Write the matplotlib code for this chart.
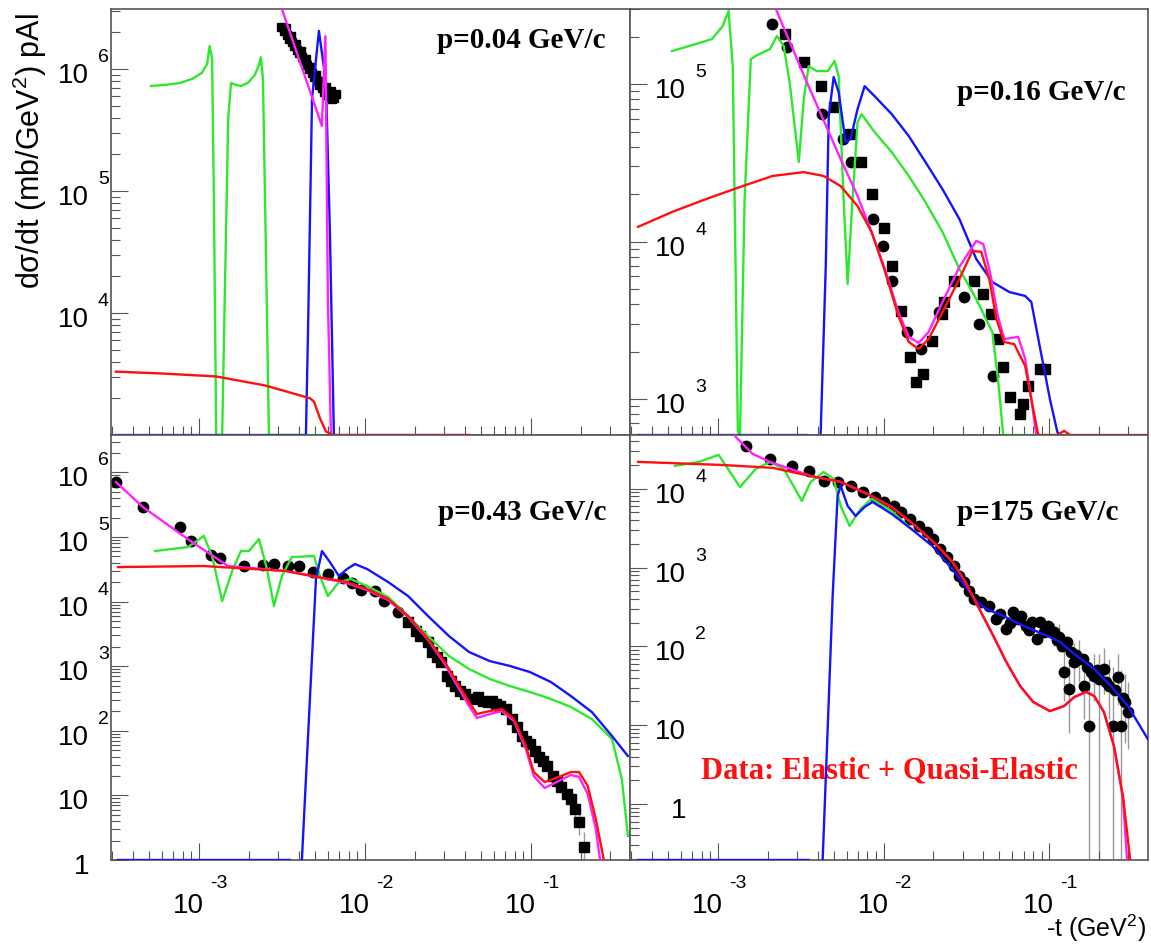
import numpy as np
import matplotlib.pyplot as plt
from matplotlib.ticker import LogLocator, NullFormatter

plt.rcParams['font.family'] = ['Liberation Sans', 'DejaVu Sans']
plt.rcParams['mathtext.fontset'] = 'custom'
plt.rcParams['mathtext.rm'] = 'Liberation Sans'
plt.rcParams['mathtext.it'] = 'Liberation Sans:italic'

nan = np.nan

# ---------------- p = 0.04 GeV/c ----------------
p1_sq_t = [3.12e-3, 3.25e-3, 3.39e-3, 3.49e-3, 3.63e-3, 3.73e-3, 3.89e-3, 4.0e-3, 4.17e-3, 4.29e-3, 4.48e-3,
           4.60e-3, 4.80e-3, 4.93e-3, 5.14e-3, 5.28e-3, 5.51e-3, 5.66e-3, 5.90e-3, 6.07e-3, 6.32e-3, 6.5e-3,
           3.34e-3, 3.58e-3, 3.84e-3, 4.11e-3, 4.41e-3, 4.73e-3, 5.07e-3, 5.43e-3, 5.82e-3, 6.24e-3, 6.69e-3]
p1_sq_y = [2.21e6, 2.05e6, 1.90e6, 1.76e6, 1.66e6, 1.54e6, 1.43e6, 1.35e6, 1.25e6, 1.16e6, 1.08e6,
           1.0e6, 9.27e5, 8.6e5, 7.98e5, 7.4e5, 7.0e5, 6.49e5, 6.13e5, 5.9e5, 5.69e5, 5.8e5,
           2.17e6, 1.86e6, 1.60e6, 1.40e6, 1.21e6, 1.04e6, 8.93e5, 7.98e5, 7.13e5, 6.61e5, 6.24e5]
p1_green_t = [5.14e-4, 6.24e-4, 7.69e-4, 9.08e-4, 1.04e-3, 1.12e-3, 1.16e-3, 1.20e-3, 1.23e-3, 1.27e-3,
              1.38e-3, 1.43e-3, 1.50e-3, 1.56e-3, 1.67e-3, 1.79e-3, 1.97e-3, 2.17e-3, 2.30e-3, 2.36e-3,
              2.43e-3, 2.53e-3, 2.64e-3, 5.36e-3]
p1_green_y = [7.26e5, 7.4e5, 7.68e5, 8.28e5, 9.27e5, 1.10e6, 1.54e6, 1.21e6, 8.6e4, 1e3,
              1e3, 1.31e4, 3.9e5, 7.68e5, 7.4e5, 7.26e5, 7.68e5, 8.93e5, 1.08e6, 1.25e6,
              8.28e5, 3.37e4, 1e3, 1e3]
p1_blue_t = [3.16e-4, 4.41e-3, 4.54e-3, 4.80e-3, 5.28e-3, 5.82e-3, 6.15e-3, 6.5e-3]
p1_blue_y = [1e3, 1e3, 7.05e3, 5.69e5, 2.05e6, 7.83e5, 4.64e4, 1e3]
p1_mag_t = [2.99e-3, 5.5e-3, 5.78e-3, 5.98e-3, 6.24e-3, 4.24e-2]
p1_mag_y = [3.86e6, 3.42e5, 1.86e6, 1.31e4, 1e3, 1e3]
p1_red_t = [3.16e-4, 6.07e-4, 1.27e-3, 2.5e-3, 3.34e-3, 4.67e-3, 4.93e-3, 5.36e-3, 5.82e-3, 6.41e-3, 4.24e-2]
p1_red_y = [3.31e3, 3.19e3, 3.02e3, 2.55e3, 2.28e3, 2.0e3, 1.88e3, 1.37e3, 1.07e3, 1e3, 1e3]

# ---------------- p = 0.16 GeV/c ----------------
p2_circ_t = [2.11e-3, 2.60e-3, 4.23e-3, 5.66e-3, 6.32e-3, 8.59e-3, 9.86e-3, 1.13e-2, 1.38e-2, 1.69e-2,
             2.15e-2, 3.06e-2, 3.79e-2, 4.57e-2]
p2_circ_y = [2.40e5, 1.72e5, 6.45e4, 4.48e4, 3.20e4, 1.39e4, 9.36e3, 5.61e3, 2.66e3, 2.08e3,
             3.56e3, 4.45e3, 2.99e3, 1.40e3]
p2_sq_t = [2.53e-3, 3.30e-3, 4.17e-3, 5.0e-3, 6.24e-3, 7.27e-3, 8.47e-3, 1.0e-2, 1.12e-2, 1.28e-2,
           1.45e-2, 1.58e-2, 1.74e-2, 1.96e-2, 2.26e-2, 2.31e-2, 2.66e-2, 3.53e-2, 3.96e-2, 4.46e-2,
           4.90e-2, 5.26e-2, 5.77e-2, 6.65e-2, 6.97e-2, 7.47e-2, 8.83e-2, 9.46e-2]
p2_sq_y = [2.08e5, 1.38e5, 9.71e4, 7.14e4, 4.81e4, 3.20e4, 2.0e4, 1.22e4, 6.99e3, 3.62e3,
           1.85e3, 1.28e3, 1.44e3, 2.33e3, 3.47e3, 4.13e3, 5.61e3, 5.61e3, 4.64e3, 3.47e3,
           2.40e3, 1.60e3, 1.03e3, 804, 929, 1.21e3, 1.55e3, 1.55e3]
p2_green_t = [5.28e-4, 9.2e-4, 1.07e-3, 1.16e-3, 1.23e-3, 1.32e-3, 1.36e-3, 1.45e-3, 1.58e-3, 1.69e-3,
              2.06e-3, 2.27e-3, 2.50e-3, 2.71e-3, 3.08e-3, 3.30e-3, 3.53e-3, 3.95e-3, 4.60e-3, 5.07e-3,
              5.36e-3, 5.74e-3, 6.07e-3, 6.5e-3, 6.97e-3, 7.37e-3, 8.83e-3, 1.12e-2, 1.42e-2, 1.79e-2,
              2.27e-2, 2.87e-2, 3.63e-2, 4.54e-2, 4.93e-2, 5.28e-2, 0.106]
p2_green_y = [1.62e5, 1.93e5, 2.34e5, 2.91e5, 1.30e5, 617, 590, 1.86e4, 1.44e5, 1.51e5,
              1.67e5, 2.02e5, 1.74e5, 1.03e5, 3.20e4, 8.03e4, 1.30e5, 1.21e5, 1.21e5, 1.40e5,
              1.12e5, 1.86e4, 5.37e3, 1.86e4, 5.74e4, 6.45e4, 4.96e4, 3.70e4, 2.61e4, 1.78e4,
              1.15e4, 6.69e3, 4.31e3, 2.66e3, 1.28e3, 590, 590]
p2_blue_t = [3.30e-4, 3.44e-3, nan, 4.17e-3, 4.48e-3, 4.67e-3, 5.0e-3, 5.36e-3, 5.90e-3, 6.32e-3,
             6.97e-3, 7.69e-3, 8.83e-3, 1.12e-2, 1.42e-2, 1.79e-2, 2.27e-2, 2.87e-2, 3.63e-2, 4.54e-2,
             5.74e-2, 7.16e-2, 7.8e-2, 8.83e-2, 0.101, 0.112, 0.115]
p2_blue_y = [590, 590, nan, 590, 6.99e3, 6.26e4, 1.11e5, 8.9e4, 4.28e4, 4.48e4,
             6.94e4, 9.71e4, 8.39e4, 6.45e4, 4.68e4, 3.20e4, 2.15e4, 1.39e4, 7.74e3, 5.53e3,
             4.78e3, 4.51e3, 4.13e3, 2.08e3, 1.0e3, 617, 590]
p2_mag_t = [2.09e-3, 3.44e-3, 5.51e-3, 6.97e-3, 8.47e-3, 1.01e-2, 1.23e-2, 1.42e-2, 1.63e-2, 1.87e-2,
            2.27e-2, 2.87e-2, 3.63e-2, 4.0e-2, 4.42e-2, 4.87e-2, 5.35e-2, 6.5e-2, 7.16e-2, 7.8e-2, 8.36e-2]
p2_mag_y = [3.56e5, 1.03e5, 3.34e4, 1.95e4, 1.15e4, 6.89e3, 3.56e3, 2.48e3, 2.27e3, 2.66e3,
            4.13e3, 6.89e3, 1.01e4, 9.64e3, 6.22e3, 3.47e3, 2.40e3, 2.48e3, 1.80e3, 1.0e3, 590]
p2_red_t = [3.30e-4, 5.28e-4, 8.47e-4, 1.36e-3, 2.14e-3, 3.30e-3, 4.35e-3, 5.51e-3, 6.97e-3, 8.47e-3,
            1.01e-2, 1.23e-2, 1.42e-2, 1.63e-2, 1.87e-2, 2.27e-2, 2.87e-2, 3.44e-2, 3.89e-2, 4.35e-2,
            4.80e-2, 5.35e-2, 6.15e-2, 7.16e-2, 7.8e-2, 8.59e-2, 0.112, 0.123, 0.134, 0.395]
p2_red_y = [1.24e4, 1.54e4, 1.86e4, 2.22e4, 2.61e4, 2.76e4, 2.61e4, 2.25e4, 1.68e4, 1.15e4,
            6.69e3, 3.37e3, 2.30e3, 2.08e3, 2.40e3, 3.56e3, 5.78e3, 8.71e3, 8.6e3, 5.78e3,
            3.22e3, 2.30e3, 2.23e3, 1.62e3, 1.0e3, 590, 590, 627, 590, 590]

# ---------------- p = 0.43 GeV/c ----------------
p3_circ_t = [3.16e-4, 4.60e-4, 7.69e-4, 8.95e-4, 1.18e-3, 1.34e-3, 1.87e-3, 2.43e-3, 2.83e-3, 3.44e-3,
             4.0e-3, 4.86e-3, 5.98e-3, 7.37e-3, 8.35e-3, 9.46e-3, 1.15e-2, 1.30e-2, 1.58e-2]
p3_circ_y = [7.10e5, 2.91e5, 1.43e5, 8.67e4, 5.26e4, 4.73e4, 3.56e4, 3.69e4, 3.82e4, 3.56e4,
             3.56e4, 2.87e4, 2.67e4, 2.32e4, 1.94e4, 1.51e4, 1.46e4, 1.02e4, 6.90e3]
p3_sq_t = [1.82e-2, 2.03e-2, 2.14e-2, 2.40e-2, 2.53e-2, 2.72e-2, 2.87e-2, 3.12e-2, 3.30e-2, 3.48e-2,
           3.73e-2, 4.0e-2, 4.48e-2, 4.80e-2, 5.14e-2, 5.51e-2, 5.82e-2, 6.15e-2, 6.5e-2, 7.06e-2,
           7.69e-2, 8.24e-2, 8.83e-2, 9.33e-2, 9.86e-2, 0.106, 0.112, 0.118, 0.125, 0.136,
           0.144, 0.152, 0.165, 0.174, 0.184, 0.195, 0.208]
p3_sq_y = [4.83e3, 3.51e3, 2.93e3, 2.37e3, 1.66e3, 1.39e3, 1.16e3, 705, 590, 494,
           413, 371, 311, 334, 289, 279, 289, 260, 242, 217,
           152, 114, 83.1, 69.5, 62.5, 48.7, 39.3, 34.1, 28.5, 20.0,
           16.7, 13.5, 10.5, 8.79, 6.16, 3.87, 1.59]
p3_err_t = [0.184, 0.195, 0.208]
p3_err_lo = [4.6, 2.4, 1.0]
p3_err_hi = [8.0, 6.0, 2.7]
p3_green_t = [5.43e-4, 8.59e-4, 1.07e-3, 1.20e-3, 1.38e-3, 1.60e-3, 1.79e-3, 2.0e-3, 2.30e-3, 2.57e-3,
              2.83e-3, 3.16e-3, 3.63e-3, 4.93e-3, 5.36e-3, 5.98e-3, 6.97e-3, 8.24e-3, 1.03e-2, 1.38e-2,
              1.82e-2, 2.40e-2, 3.21e-2, 4.24e-2, 5.66e-2, 7.47e-2, 9.86e-2, 0.132, 0.174, 0.233,
              0.308, 0.353, 0.384]
p3_green_y = [6.07e4, 7.0e4, 1.04e5, 5.08e4, 1.02e4, 3.20e4, 6.07e4, 6.07e4, 9.31e4, 3.20e4,
              8.55e3, 2.49e4, 4.90e4, 5.08e4, 2.49e4, 1.22e4, 2.01e4, 2.24e4, 1.74e4, 1.18e4,
              5.98e3, 2.93e3, 1.44e3, 905, 634, 494, 399, 311, 234, 152,
              74.6, 17.9, 2.35]
p3_blue_t = [3.25e-4, 3.53e-3, nan, 4.17e-3, 4.67e-3, 5.07e-3, 5.51e-3, 6.15e-3, 6.97e-3, 7.80e-3,
             8.71e-3, 1.03e-2, 1.38e-2, 1.82e-2, 2.40e-2, 3.21e-2, 4.24e-2, 5.66e-2, 7.47e-2, 9.86e-2,
             0.132, 0.174, 0.233, 0.308, 0.384]
p3_blue_y = [1, 1, nan, 1, 346, 2.24e4, 6.07e4, 4.10e4, 2.49e4, 3.20e4,
             3.82e4, 3.20e4, 2.01e4, 1.22e4, 5.98e3, 2.93e3, 1.66e3, 1.20e3, 1.01e3, 813,
             569, 346, 195, 83.1, 40.7]
p3_mag_t = [3.16e-4, 4.60e-4, 9.08e-4, 1.50e-3, 3.34e-3, 5.21e-3, 7.80e-3, 1.03e-2, 1.38e-2, 1.82e-2,
            2.40e-2, 3.03e-2, 3.58e-2, 4.24e-2, 4.73e-2, 5.66e-2, 6.68e-2, 7.9e-2, 9.33e-2, 0.104,
            0.121, 0.147, 0.174, 0.195, 0.220, 0.246, 0.261]
p3_mag_y = [7.10e5, 2.91e5, 8.37e4, 3.56e4, 2.98e4, 2.40e4, 1.94e4, 1.51e4, 1.06e4, 5.78e3,
            2.55e3, 1.08e3, 512, 242, 158, 182, 203, 142, 52.3, 20.0,
            13.0, 16.7, 20.7, 19.3, 10.5, 3.02, 1.0]
p3_red_t = [3.25e-4, 1.07e-3, 3.34e-3, 5.21e-3, 7.80e-3, 1.03e-2, 1.38e-2, 1.82e-2, 2.40e-2, 3.03e-2,
            3.58e-2, 4.24e-2, 4.73e-2, 5.66e-2, 6.68e-2, 7.9e-2, 9.33e-2, 0.104, 0.121, 0.147,
            0.174, 0.195, 0.220, 0.246, 0.275]
p3_red_y = [3.43e4, 3.56e4, 2.98e4, 2.40e4, 2.01e4, 1.57e4, 1.10e4, 5.98e3, 2.64e3, 1.16e3,
            569, 279, 182, 203, 217, 152, 58.2, 23.0, 16.1, 19.3,
            23.0, 23.0, 14.0, 4.31, 1.0]

# ---------------- p = 175 GeV/c ----------------
p4_circ_t = [1.47e-3, 2.06e-3, 2.79e-3, 3.53e-3, 4.35e-3, 5.28e-3, 6.32e-3, 7.47e-3, 8.83e-3, 1.01e-2,
             1.15e-2, 1.28e-2, 1.45e-2, 1.63e-2, 1.84e-2, 2.0e-2, 2.20e-2, 2.43e-2, 2.68e-2, 2.87e-2,
             3.08e-2, 3.30e-2, 3.53e-2, 3.89e-2, 4.35e-2, 4.80e-2, 5.07e-2, 5.51e-2, 5.8e-2, 6.07e-2,
             6.5e-2, 6.8e-2, 7.27e-2, 7.6e-2, 7.9e-2, 8.47e-2, 8.83e-2, 9.3e-2, 9.86e-2, 0.107,
             0.111, 0.115, 0.12, 0.128, 0.123, 0.132, 0.135, 0.142, 0.145, 0.152,
             0.16, 0.163, 0.17, 0.174, 0.18, 0.187, 0.195, 0.200, 0.214, 0.22,
             0.230, 0.243, 0.25, 0.261, 0.272, 0.28, 0.287, 0.299]
p4_circ_y = [3.49e4, 2.39e4, 1.95e4, 1.68e4, 1.26e4, 1.22e4, 1.09e4, 9.1e3, 7.87e3, 6.79e3,
             6.05e3, 5.08e3, 4.14e3, 3.37e3, 2.83e3, 2.31e3, 1.72e3, 1.36e3, 1.05e3, 782,
             656, 505, 400, 366, 326, 223, 258, 166, 200, 273,
             223, 240, 182, 160, 204, 124, 204, 150, 182, 152,
             120, 132, 100, 114, 47.3, 28.8, 85, 63.4, 78, 69.2,
             70, 31.4, 55, 9.77, 48, 42.1, 50, 38.6, 51.7, 35,
             31.4, 9.77, 28, 40.9, 9.77, 22, 19.7, 14.7]
p4_err_t = [0.107, 0.115, 0.123, 0.132, 0.142, 0.152, 0.163, 0.174, 0.187, 0.200,
            0.214, 0.230, 0.243, 0.261, 0.272, 0.287, 0.299]
p4_err_lo = [100, 85, 20, 8, 30, 35, 12, 0.1, 20, 0.1, 25, 12, 0.1, 18, 0.1, 6, 5]
p4_err_hi = [200, 190, 90, 70, 110, 120, 70, 60, 80, 80, 95, 70, 55, 80, 50, 45, 35]
p4_green_t = [5.51e-4, 7.69e-4, 1.01e-3, 1.36e-3, 1.69e-3, 2.06e-3, 2.50e-3, 3.21e-3, 3.63e-3, 4.35e-3,
              5.0e-3, 5.51e-3, 6.24e-3, 7.27e-3, 8.47e-3, 1.12e-2, 1.47e-2]
p4_green_y = [1.95e4, 2.19e4, 2.69e4, 1.05e4, 1.78e4, 2.19e4, 1.78e4, 7.0e3, 1.22e4, 1.63e4,
              1.33e4, 6.05e3, 3.37e3, 5.54e3, 7.43e3, 5.23e3, 3.09e3]
p4_blue_t = [3.30e-4, 3.53e-3, nan, 4.29e-3, 4.60e-3, 4.93e-3, 5.28e-3, 5.51e-3, 6.07e-3, 6.78e-3,
             7.69e-3, 8.59e-3, 1.12e-2, 1.47e-2, 1.97e-2, 2.50e-2, 3.12e-2, 3.63e-2, 4.17e-2, 5.28e-2,
             7.27e-2, 9.73e-2, 0.116, 0.147, 0.187, 0.236, 0.299, 0.394]
p4_blue_y = [0.195, 0.195, nan, 0.195, 8.95, 436, 8.1e3, 1.09e4, 6.05e3, 4.52e3,
             5.87e3, 6.79e3, 4.79e3, 3.09e3, 1.88e3, 1.05e3, 584, 377, 298, 243,
             176, 136, 114, 75.5, 51.7, 31.4, 17.5, 6.68]
p4_mag_t = [1.23e-3, 1.28e-3, 1.62e-3, 2.06e-3, 2.75e-3, 3.63e-3, 5.51e-3, 8.01e-3, 1.12e-2, 1.56e-2,
            2.06e-2, 2.61e-2, 3.12e-2, 3.79e-2, 4.60e-2, 5.51e-2, 6.68e-2, 8.01e-2, 0.101, 0.123,
            0.142, 0.167, 0.187, 0.214, 0.246, 0.279, 0.295]
p4_mag_y = [5.74e4, 4.54e4, 2.77e4, 2.19e4, 1.78e4, 1.45e4, 1.22e4, 8.59e3, 5.87e3, 3.37e3,
            1.99e3, 1.18e3, 656, 298, 136, 63.4, 31.4, 19.7, 15.1, 17.5,
            22.8, 26.4, 23.5, 14.7, 5.45, 1.16, 0.20]
p4_red_t = [3.30e-4, 1.07e-3, 2.14e-3, 3.63e-3, 5.51e-3, 8.01e-3, 1.12e-2, 1.56e-2, 2.06e-2, 2.61e-2,
            3.12e-2, 3.79e-2, 4.60e-2, 5.51e-2, 6.68e-2, 8.01e-2, 0.101, 0.123, 0.142, 0.167,
            0.187, 0.214, 0.246, 0.279, 0.308]
p4_red_y = [2.19e4, 2.0e4, 1.84e4, 1.45e4, 1.22e4, 8.59e3, 5.87e3, 3.37e3, 1.99e3, 1.18e3,
            656, 298, 136, 63.4, 31.4, 19.7, 15.1, 17.5, 22.8, 26.4,
            23.5, 14.7, 5.45, 1.26, 0.20]

T_LIM = (2.95e-4, 0.395)
GREEN, BLUE, MAGENTA, RED = '#2ee82e', '#1414ff', '#ff22ff', '#ff1010'
FRAME = '#555555'

fig = plt.figure(figsize=(11.51, 9.45), dpi=100)
ax1 = fig.add_axes([0.0964, 0.5386, 0.4509, 0.4508])
ax2 = fig.add_axes([0.5474, 0.5386, 0.4500, 0.4508])
ax3 = fig.add_axes([0.0964, 0.0889, 0.4509, 0.4497])
ax4 = fig.add_axes([0.5474, 0.0889, 0.4500, 0.4497])


def style(ax, ylim):
    ax.set_xscale('log')
    ax.set_yscale('log')
    ax.set_xlim(*T_LIM)
    ax.set_ylim(*ylim)
    for axis in (ax.xaxis, ax.yaxis):
        axis.set_major_locator(LogLocator(base=10, numticks=50))
        axis.set_minor_locator(LogLocator(base=10, subs=np.arange(2, 10), numticks=50))
        axis.set_minor_formatter(NullFormatter())
    ax.tick_params(which='both', direction='in', top=False, right=False,
                   labelbottom=False, labelleft=False, color=FRAME, width=0.8)
    ax.tick_params(which='major', length=12)
    ax.tick_params(which='minor', length=6.5)
    for s in ax.spines.values():
        s.set_color(FRAME)
        s.set_linewidth(1.2)


def ylabels(ax, exps, xoff):
    for n in exps:
        ax.annotate('1' if n == 0 else '10', xy=(0, 10.0 ** n), xycoords=('axes fraction', 'data'),
                    xytext=(xoff, -13), textcoords='offset pixels', ha='right', va='baseline',
                    fontsize=20, annotation_clip=False)
        if n > 1:
            ax.annotate(str(n), xy=(0, 10.0 ** n), xycoords=('axes fraction', 'data'),
                        xytext=(xoff + 9, 8), textcoords='offset pixels', ha='left', va='baseline',
                        fontsize=14, annotation_clip=False)


def xlabels(ax):
    for n in (-3, -2, -1):
        ax.annotate('10', xy=(10.0 ** n, 0), xycoords=('data', 'axes fraction'),
                    xytext=(5, -52), textcoords='offset pixels', ha='right', va='baseline',
                    fontsize=20, annotation_clip=False)
        ax.annotate('-%d' % -n, xy=(10.0 ** n, 0), xycoords=('data', 'axes fraction'),
                    xytext=(11, -27), textcoords='offset pixels', ha='left', va='baseline',
                    fontsize=14, annotation_clip=False)


def curves(ax, green, blue, mag, red):
    for (t, y), c, z in ((green, GREEN, 3), (blue, BLUE, 4), (mag, MAGENTA, 5), (red, RED, 6)):
        ax.plot(t, y, color=c, lw=1.7, zorder=z, solid_joinstyle='round')


def plabel(ax, txt, x, y):
    ax.text(x, y, txt, transform=ax.transAxes, ha='right', va='baseline', fontsize=21,
            fontweight='bold', family='Liberation Serif')


# panel 1
style(ax1, (1e3, 3.1e6))
ax1.plot(p1_sq_t, p1_sq_y, 's', color='black', ms=6, zorder=2)
curves(ax1, (p1_green_t, p1_green_y), (p1_blue_t, p1_blue_y), (p1_mag_t, p1_mag_y), (p1_red_t, p1_red_y))
ylabels(ax1, [4, 5, 6], -22)
plabel(ax1, 'p=0.04 GeV/c', 0.952, 0.911)

# panel 2
style(ax2, (590, 3.0e5))
ax2.plot(p2_circ_t, p2_circ_y, 'o', color='black', ms=7.5, zorder=2)
ax2.plot(p2_sq_t, p2_sq_y, 's', color='black', ms=7, zorder=2)
curves(ax2, (p2_green_t, p2_green_y), (p2_blue_t, p2_blue_y), (p2_mag_t, p2_mag_y), (p2_red_t, p2_red_y))
ylabels(ax2, [3, 4, 5], 56)
plabel(ax2, 'p=0.16 GeV/c', 0.956, 0.789)

# panel 3
style(ax3, (1, 3.8e6))
ax3.vlines(p3_err_t, p3_err_lo, p3_err_hi, colors='#999999', lw=1, zorder=1)
ax3.plot(p3_circ_t, p3_circ_y, 'o', color='black', ms=7.5, zorder=2)
ax3.plot(p3_sq_t, p3_sq_y, 's', color='black', ms=7, zorder=2)
curves(ax3, (p3_green_t, p3_green_y), (p3_blue_t, p3_blue_y), (p3_mag_t, p3_mag_y), (p3_red_t, p3_red_y))
ylabels(ax3, [0, 1, 2, 3, 4, 5, 6], -22)
xlabels(ax3)
plabel(ax3, 'p=0.43 GeV/c', 0.954, 0.802)

# panel 4
style(ax4, (0.195, 4.8e4))
ax4.vlines(p4_err_t, p4_err_lo, p4_err_hi, colors='#999999', lw=1, zorder=1)
ax4.plot(p4_circ_t, p4_circ_y, 'o', color='black', ms=7.5, zorder=2)
curves(ax4, (p4_green_t, p4_green_y), (p4_blue_t, p4_blue_y), (p4_mag_t, p4_mag_y), (p4_red_t, p4_red_y))
ylabels(ax4, [0, 1, 2, 3, 4], 56)
xlabels(ax4)
plabel(ax4, 'p=175 GeV/c', 0.942, 0.802)
ax4.text(0.137, 0.195, 'Data: Elastic + Quasi-Elastic', transform=ax4.transAxes, ha='left',
         va='baseline', fontsize=22, fontweight='bold', family='Liberation Serif', color=RED)

fig.text(30 / 1151, 1 - 13 / 945, 'd\u03c3/dt (mb/GeV$^2$) pAl', rotation=90, ha='center', va='top',
         fontsize=22)
fig.text(1146 / 1151, 1 - 937 / 945, '-t (GeV$^2$)', ha='right', va='baseline', fontsize=18)

fig.savefig('out.png', dpi=100)
